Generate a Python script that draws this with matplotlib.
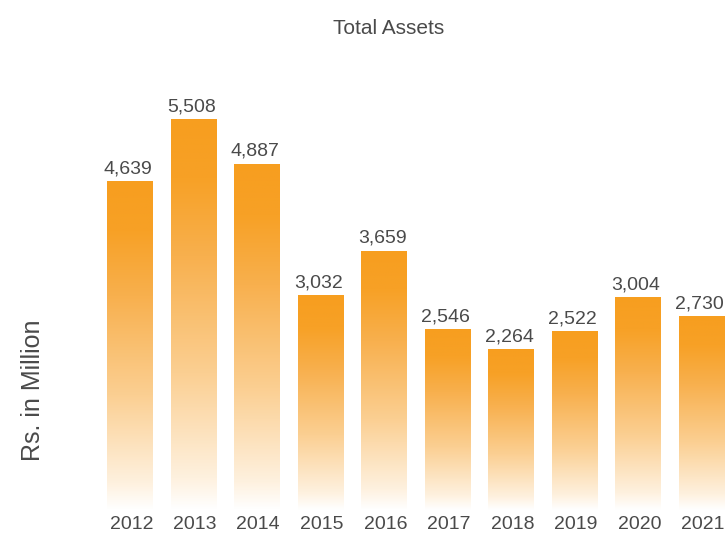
import numpy as np
import matplotlib.pyplot as plt
from matplotlib.colors import LinearSegmentedColormap
from matplotlib.patches import Rectangle

years = ['2012', '2013', '2014', '2015', '2016', '2017', '2018', '2019', '2020', '2021']
assets = [4639, 5508, 4887, 3032, 3659, 2546, 2264, 2522, 3004, 2730]

TEXT = '#4a4a4a'
plt.rcParams['font.family'] = ['Liberation Sans', 'DejaVu Sans']

# orange at the top of each bar, fading to white at its foot
cmap = LinearSegmentedColormap.from_list(
    'fade', [(0.0, '#ffffff'), (0.08, '#fef1df'), (0.35, '#fbcf92'),
             (0.65, '#f8b04e'), (0.85, '#f7a126'), (1.0, '#f79e1f')])


def main():
    fig = plt.figure(figsize=(7.26, 5.33), dpi=100)
    ax = fig.add_axes([0, 23 / 533, 1, 510 / 533])
    x = np.arange(len(years))
    width = 0.72
    grad = np.linspace(0, 1, 256).reshape(-1, 1)

    for xi, val in zip(x, assets):
        left = xi - width / 2
        im = ax.imshow(grad, cmap=cmap, origin='lower', aspect='auto',
                       extent=[left, left + width, 0, val], zorder=2)
        clip = Rectangle((left, 0), width, val, transform=ax.transData, facecolor='none')
        ax.add_patch(clip)
        im.set_clip_path(clip)
        ax.text(xi - 0.03, val + 55, f'{val:,}', ha='center', va='bottom', fontsize=14, color=TEXT)

    ax.set_xlim(-130 / 63.5, (726 - 130) / 63.5)
    ax.set_ylim(0, 7193)
    ax.set_xticks(x + 0.02)
    ax.set_xticklabels(years, fontsize=14, color=TEXT)
    ax.tick_params(length=0, pad=4)
    ax.set_yticks([])
    for s in ax.spines.values():
        s.set_visible(False)

    fig.text(389 / 726, 1 - 28 / 533, 'Total Assets', ha='center', va='center', fontsize=15, color=TEXT)
    fig.text(33 / 726, 1 - 390 / 533, 'Rs. in Million', ha='center', va='center',
             rotation=90, fontsize=18, color=TEXT)

    fig.savefig('out.png', dpi=100)


if __name__ == '__main__':
    main()
